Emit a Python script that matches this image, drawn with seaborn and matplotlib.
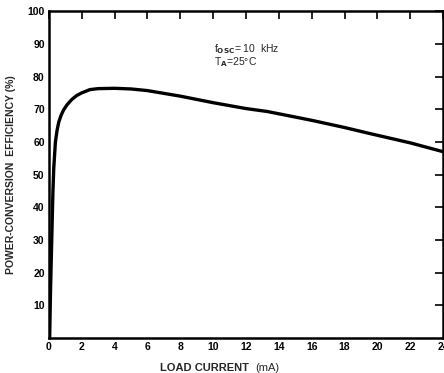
import matplotlib
matplotlib.use("Agg")
import matplotlib.pyplot as plt
import seaborn as sns
import pandas as pd

# Data
load_current_ma = [0.05, 0.1, 0.2, 0.25, 0.3, 0.4, 0.5, 0.6, 0.75, 0.9, 1.1, 1.4, 1.7, 2.0, 2.5, 3.0, 4.0, 5.0, 6.0, 8.0, 10.0, 12.0, 13.3, 16.0, 18.0, 19.5, 22.0, 24.0]
efficiency_pct = [0.0, 14.0, 35.0, 45.0, 52.0, 60.0, 63.5, 66.0, 68.2, 69.8, 71.3, 73.0, 74.2, 75.0, 76.0, 76.3, 76.4, 76.2, 75.7, 74.0, 72.0, 70.2, 69.3, 66.6, 64.4, 62.6, 59.7, 57.0]
x_ticks = [0, 2, 4, 6, 8, 10, 12, 14, 16, 18, 20, 22, 24]
y_ticks = [10, 20, 30, 40, 50, 60, 70, 80, 90, 100]

df = pd.DataFrame({"current": load_current_ma, "eff": efficiency_pct})

sns.set_style("white")
plt.rcParams['font.family'] = ['Liberation Sans', 'DejaVu Sans']

fig = plt.figure(figsize=(4.44, 3.73), dpi=100)
ax = fig.add_axes([0.110, 0.094, 0.888, 0.876])

sns.lineplot(data=df, x="current", y="eff", ax=ax, color="black", linewidth=2.4, sort=False)

ax.set_xlim(0, 24)
ax.set_ylim(0, 100)
ax.set_xticks(x_ticks)
ax.set_yticks(y_ticks)
ax.set_xticklabels([str(t) for t in x_ticks], fontsize=7.5, fontweight="bold")
ax.set_yticklabels([str(t) for t in y_ticks], fontsize=7.5, fontweight="bold")
ax.tick_params(axis="both", direction="in", length=6, width=1.2, colors="black", pad=3,
               top=True, right=True)
for s in ax.spines.values():
    s.set_linewidth(1.8)
    s.set_color("black")

ax.set_xlabel("")
ax.set_ylabel("POWER-CONVERSION  EFFICIENCY (%)", fontsize=7.5, fontweight="bold", labelpad=8)
ax.text(0.282, -0.078, "LOAD CURRENT", transform=ax.transAxes, fontsize=8, fontweight="bold",
        ha="left", va="top")
ax.text(0.523, -0.078, "(mA)", transform=ax.transAxes, fontsize=8, ha="left", va="top")

ax.text(0.42, 0.885, r"f$_{\mathbf{OSC}}$= 10  kHz", transform=ax.transAxes, fontsize=7.5, ha="left", va="center")
ax.text(0.42, 0.845, r"T$_{\mathbf{A}}$=25°C", transform=ax.transAxes, fontsize=7.5, ha="left", va="center")

fig.savefig("out.png", dpi=100)
